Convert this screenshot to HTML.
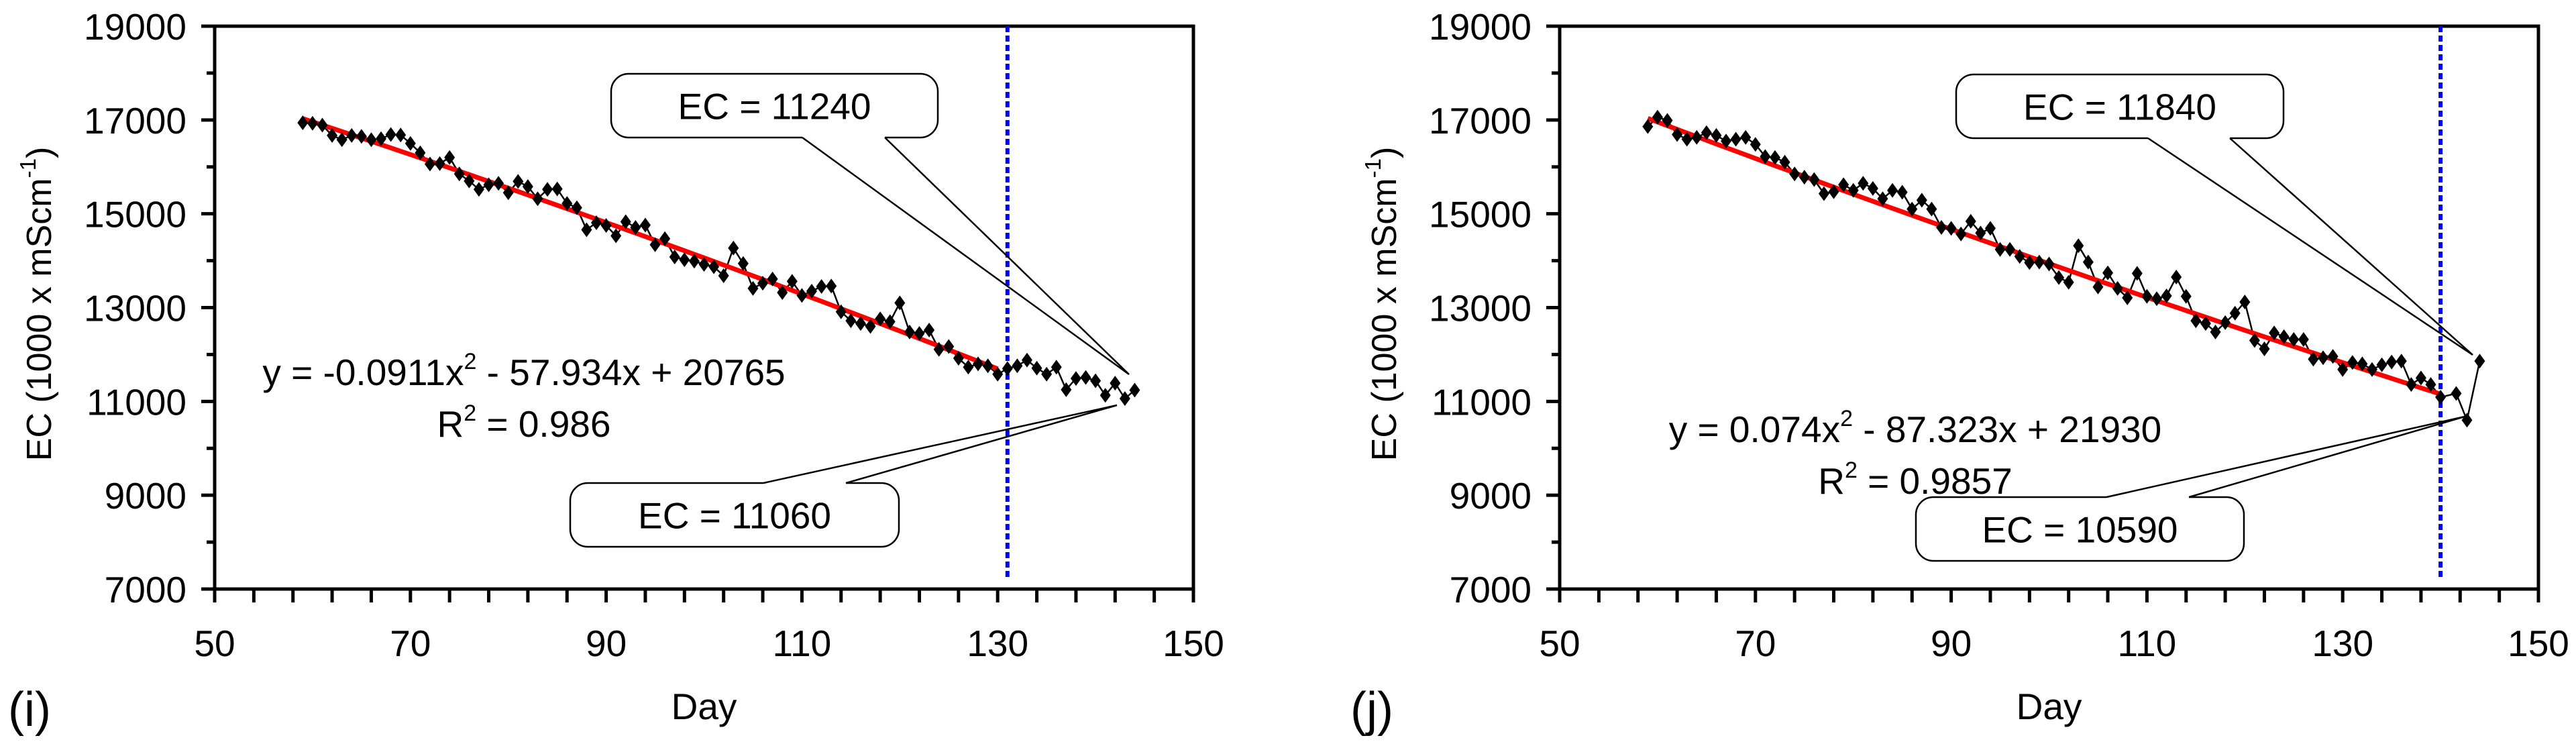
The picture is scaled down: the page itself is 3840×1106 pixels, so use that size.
<!DOCTYPE html>
<html><head><meta charset="utf-8"><style>
html,body{margin:0;padding:0;background:#fff}
svg{display:block;font-family:"Liberation Sans",Arial,sans-serif}
</style></head><body>
<svg id="chart" width="3840" height="1106" viewBox="0 0 3840 1106" xmlns="http://www.w3.org/2000/svg"></svg>
<script>
const xTicks = [50, 70, 90, 110, 130, 150];
const yTicks = [7000, 9000, 11000, 13000, 15000, 17000, 19000];
const daysI = [59,60,61,62,63,64,65,66,67,68,69,70,71,72,73,74,75,76,77,78,79,80,81,82,83,84,85,86,87,88,89,90,91,92,93,94,95,96,97,98,99,100,101,102,103,104,105,106,107,108,109,110,111,112,113,114,115,116,117,118,119,120,121,122,123,124,125,126,127,128,129,130,131,132,133,134,135,136,137,138,139,140,141,142,143,144];
const ecI = [16940,16930,16890,16670,16580,16670,16650,16580,16600,16690,16680,16500,16300,16060,16070,16200,15850,15700,15520,15620,15650,15450,15690,15580,15320,15520,15530,15220,15130,14660,14810,14750,14530,14830,14710,14760,14340,14470,14080,14020,13990,13920,13870,13680,14270,13940,13410,13520,13610,13320,13560,13260,13350,13450,13460,12910,12720,12660,12600,12760,12700,13100,12480,12450,12520,12110,12170,11920,11730,11800,11760,11580,11700,11760,11880,11710,11580,11730,11250,11490,11510,11440,11130,11390,11060,11240];
const daysJ = [59,60,61,62,63,64,65,66,67,68,69,70,71,72,73,74,75,76,77,78,79,80,81,82,83,84,85,86,87,88,89,90,91,92,93,94,95,96,97,98,99,100,101,102,103,104,105,106,107,108,109,110,111,112,113,114,115,116,117,118,119,120,121,122,123,124,125,126,127,128,129,130,131,132,133,134,135,136,137,138,139,140,141.6,142.7,144];
const ecJ = [16860,17060,16990,16690,16590,16630,16730,16670,16550,16590,16630,16480,16220,16200,16100,15850,15780,15730,15430,15470,15620,15500,15650,15540,15320,15500,15460,15100,15290,15100,14710,14690,14570,14840,14590,14690,14240,14240,14090,13960,13970,13930,13640,13540,14320,13970,13440,13740,13410,13210,13730,13240,13190,13250,13650,13240,12720,12660,12480,12680,12880,13120,12300,12120,12460,12380,12320,12320,11900,11930,11960,11680,11830,11800,11680,11780,11840,11860,11360,11500,11360,11090,11170,10600,11860];
const coefI = [-0.0911, -57.934, 20765];
const coefJ = [0.074, -87.323, 21930];
const trendRangeI = [59, 130];
const trendRangeJ = [59, 140];
const cutI = 131;
const cutJ = 140;

const NS = "http://www.w3.org/2000/svg";
const svg = document.getElementById('chart');
function mk(tag, attrs, parent){const e=document.createElementNS(NS,tag);for(const k in attrs)e.setAttribute(k,attrs[k]);(parent||svg).appendChild(e);return e;}

function panel(cfg){
  const g = mk('g',{});
  
  
  const L=cfg.left, R=cfg.left+1459, T=39, B=878;
  const sx = d => L + (d-50)/100*(R-L);
  const sy = v => B - (v-7000)/12000*(B-T);
  const frame = mk('rect',{x:L,y:T,width:R-L,height:B-T,fill:'none',stroke:'#000','stroke-width':5},g);
  
  
  for(let v=7000; v<=19000; v+=1000){
    const major = yTicks.includes(v);
    const t = mk('line',{x1:L-(major?20:12),x2:L,y1:sy(v),y2:sy(v),stroke:'#000','stroke-width':5},g);
    
    
  }
  yTicks.forEach(v=>{
    const t = mk('text',{x:L-42,y:sy(v)+20,'text-anchor':'end','font-size':55},g);
    t.textContent = v;
    
    
  });
  for(let i=0;i<=25;i++){
    const d = 50 + i*4;
    const t = mk('line',{x1:sx(d),x2:sx(d),y1:B,y2:B+20,stroke:'#000','stroke-width':5},g);
    
    
  }
  xTicks.forEach(d=>{
    const t = mk('text',{x:sx(d),y:978,'text-anchor':'middle','font-size':55},g);
    t.textContent = d;
    
    
  });
  const xt = mk('text',{x:(L+R)/2,y:1072,'text-anchor':'middle','font-size':55},g);
  xt.textContent='Day';
  
  
  const yt = mk('text',{x:0,y:0,'text-anchor':'middle','font-size':52,transform:`translate(${L-244},453) rotate(-90)`},g);
  yt.innerHTML = 'EC (1000 x mScm<tspan font-size="33" dy="-23">-1</tspan><tspan dy="23">)</tspan>';
  
  
  const pl = mk('text',{x:cfg.labelX,y:1082,'text-anchor':'middle','font-size':72},g);
  pl.textContent = cfg.label;
  
  
  const cl = mk('line',{x1:sx(cfg.cut),x2:sx(cfg.cut),y1:T,y2:sy(7200),stroke:'#0000ff','stroke-width':6,'stroke-dasharray':'9 5'},g);
  
  
  const pts = cfg.days.map((d,i)=>sx(d)+','+sy(cfg.ec[i])).join(' ');
  const ln = mk('polyline',{points:pts,fill:'none',stroke:'#000','stroke-width':2.5},g);
  
  
  const c=cfg.coef, tp=[];
  for(let d=cfg.range[0]; d<=cfg.range[1]; d+=1){tp.push(sx(d)+','+sy(c[0]*d*d+c[1]*d+c[2]));}
  const tr = mk('polyline',{points:tp.join(' '),fill:'none',stroke:'#ff0000','stroke-width':7},g);
  
  
  cfg.days.forEach((d,i)=>{
    const x=sx(d), y=sy(cfg.ec[i]);
    const m = mk('polygon',{points:`${x},${y-11} ${x+8},${y} ${x},${y+11} ${x-8},${y}`,fill:'#000'},g);
    
    
  });
  const eq = mk('text',{x:cfg.eqX,y:cfg.eqY,'text-anchor':'middle','font-size':55},g);
  eq.innerHTML = cfg.eq;
  
  
  const r2 = mk('text',{x:cfg.eqX,y:cfg.eqY+77,'text-anchor':'middle','font-size':55},g);
  r2.innerHTML = cfg.r2;
  
  
  cfg.callouts.forEach(co=>{
    const cg = mk('g',{},g);
    
    
    mk('rect',{x:co.x,y:co.y,width:co.w,height:co.h,rx:26,ry:26,fill:'#fff',stroke:'#000','stroke-width':2.5},cg);
    const by = co.top ? co.y : co.y+co.h;
    mk('line',{x1:co.p1,y1:by,x2:co.p2,y2:by,stroke:'#fff','stroke-width':4},cg);
    mk('polyline',{points:`${co.p1},${by} ${co.tx},${co.ty} ${co.p2},${by}`,fill:'none',stroke:'#000','stroke-width':2.5},cg);
    const tt = mk('text',{x:co.x+co.w/2,y:co.y+co.h/2+20,'text-anchor':'middle','font-size':55},cg);
    tt.textContent = co.text;
  });
}

panel({name:'panel-i',left:320,days:daysI,ec:ecI,coef:coefI,range:trendRangeI,cut:cutI,label:'(i)',labelX:44,
  eqX:781,eqY:574,eq:'y = -0.0911x<tspan font-size="34" dy="-24">2</tspan><tspan dy="24"> - 57.934x + 20765</tspan>',
  r2:'R<tspan font-size="34" dy="-24">2</tspan><tspan dy="24"> = 0.986</tspan>',
  callouts:[
    {x:911,y:110,w:487,h:95,p1:1196,p2:1319,tx:1683,ty:558,top:false,text:'EC = 11240'},
    {x:850,y:720,w:490,h:95,p1:1138,p2:1261,tx:1665,ty:604,top:true,text:'EC = 11060'}
  ]});
panel({name:'panel-j',left:2325,days:daysJ,ec:ecJ,coef:coefJ,range:trendRangeJ,cut:cutJ,label:'(j)',labelX:2045,
  eqX:2855,eqY:659,eq:'y = 0.074x<tspan font-size="34" dy="-24">2</tspan><tspan dy="24"> - 87.323x + 21930</tspan>',
  r2:'R<tspan font-size="34" dy="-24">2</tspan><tspan dy="24"> = 0.9857</tspan>',
  callouts:[
    {x:2916,y:111,w:488,h:95,p1:3202,p2:3324,tx:3686,ty:529,top:false,text:'EC = 11840'},
    {x:2856,y:741,w:489,h:95,p1:3140,p2:3263,tx:3674,ty:621,top:true,text:'EC = 10590'}
  ]});
</script>
</body></html>
